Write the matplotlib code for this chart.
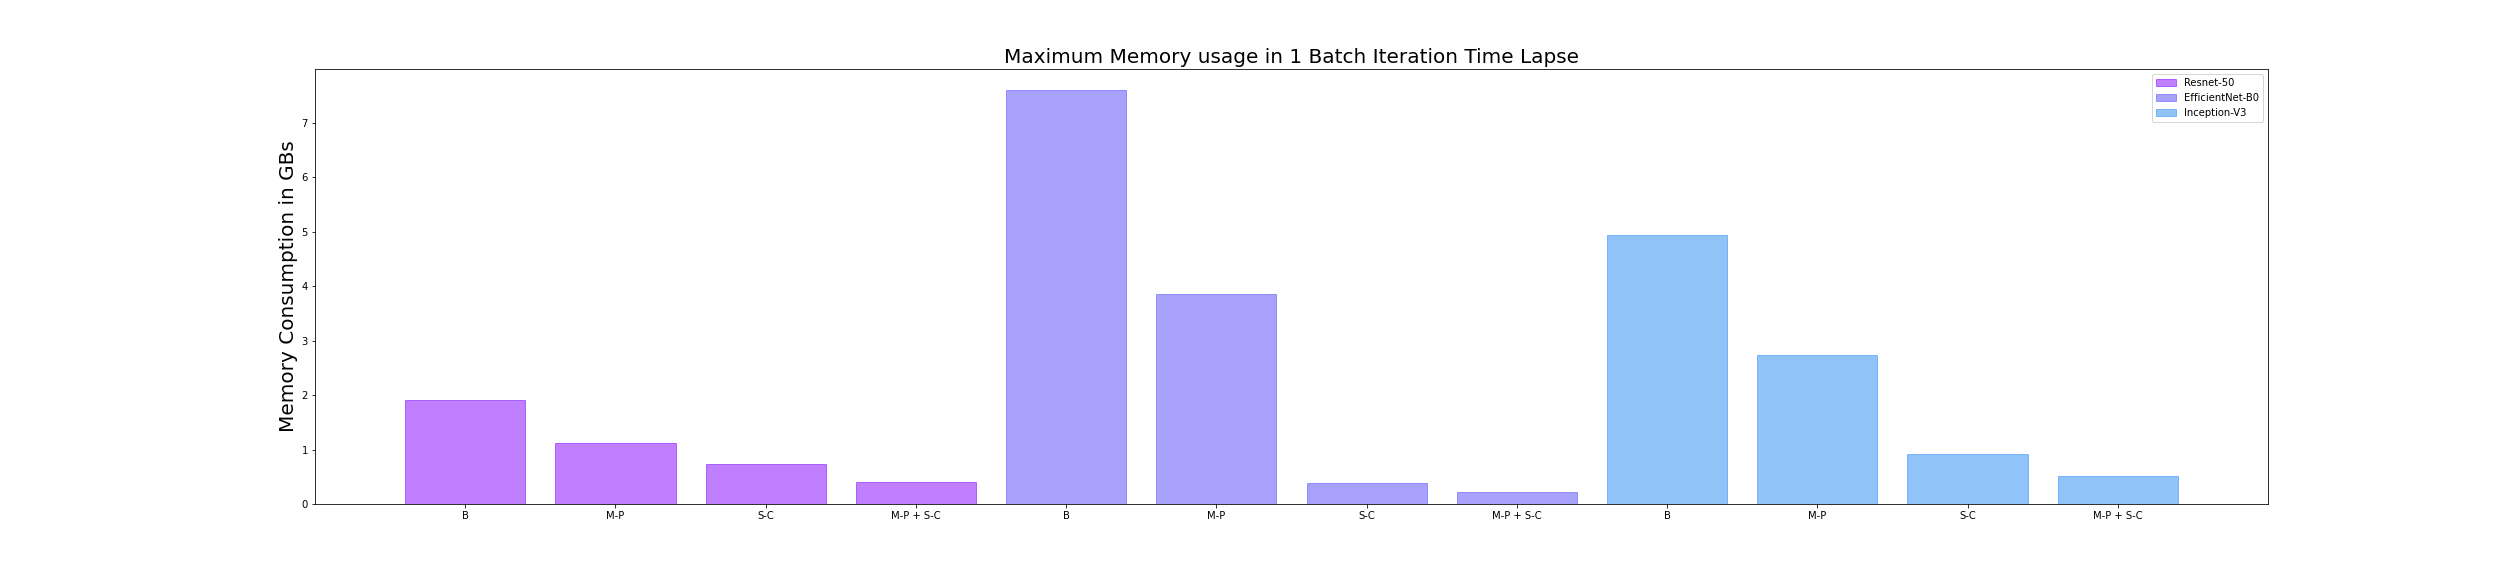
import matplotlib
matplotlib.use('Agg')
import matplotlib.pyplot as plt
import numpy as np

models = ['Resnet-50', 'EfficientNet-B0', 'Inception-V3']
methods = ['B', 'M-P', 'S-C', 'M-P + S-C']

resnet = [1.91, 1.12, 0.73, 0.40]
efficientnet = [7.60, 3.86, 0.38, 0.215]
inception = [4.93, 2.73, 0.91, 0.51]

values = [resnet, efficientnet, inception]
colors = plt.cm.rainbow([0, 1 / 11, 2 / 11])

fig, ax = plt.subplots(figsize=(35, 8), dpi=72)
fig.subplots_adjust(bottom=0.125, top=0.88)

tick_pos = []
tick_lab = []
for i, (name, vals) in enumerate(zip(models, values)):
    x = np.arange(len(methods)) + i * len(methods)
    ax.bar(x, vals, width=0.8, color=colors[i], edgecolor=colors[i],
           linewidth=1, alpha=0.5, label=name)
    tick_pos.extend(x)
    tick_lab.extend(methods)

ax.set_xticks(tick_pos)
ax.set_xticklabels(tick_lab)
ax.set_xlim(-1, len(tick_pos))
ax.set_title('Maximum Memory usage in 1 Batch Iteration Time Lapse', fontsize=20)
ax.set_ylabel('Memory Consumption in GBs', fontsize=20)
ax.legend(loc='upper right')

fig.savefig('out.png', dpi=72)
